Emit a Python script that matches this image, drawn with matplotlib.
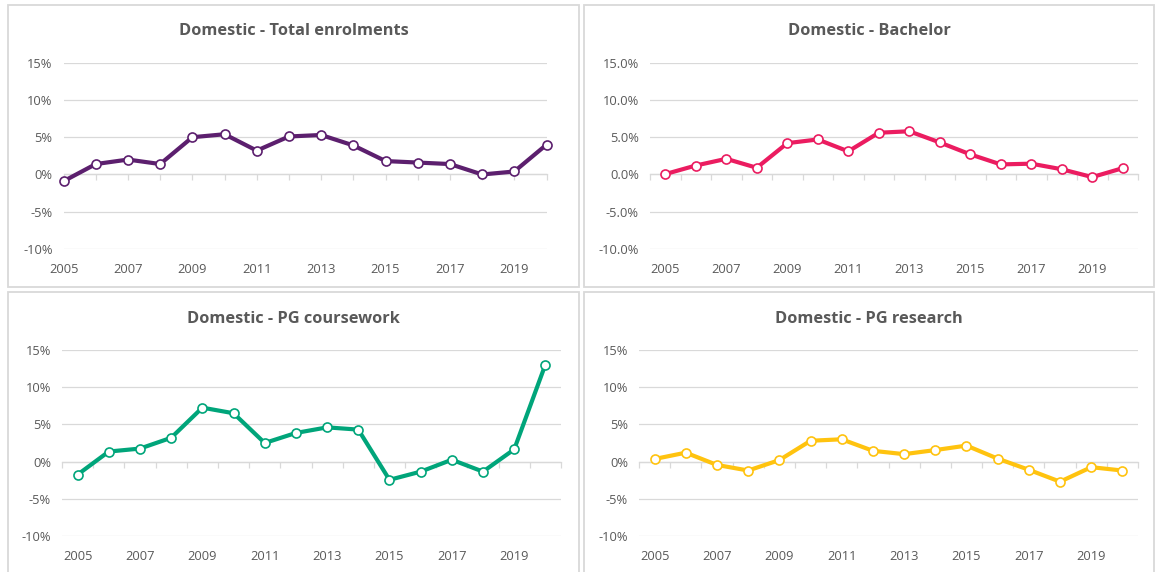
import matplotlib.pyplot as plt
from matplotlib.patches import Rectangle
from matplotlib.ticker import FuncFormatter

plt.rcParams['font.family'] = ['Open Sans', 'DejaVu Sans']

years = list(range(2005, 2021))
label_years = list(range(2005, 2021, 2))

total = [-0.9, 1.4, 2.0, 1.4, 5.0, 5.4, 3.2, 5.1, 5.3, 3.9, 1.8, 1.6, 1.4, 0.0, 0.4, 4.0]
bachelor = [0.05, 1.2, 2.1, 0.9, 4.2, 4.7, 3.1, 5.6, 5.8, 4.3, 2.7, 1.35, 1.45, 0.7, -0.35, 0.85]
pg_course = [-1.75, 1.35, 1.75, 3.2, 7.25, 6.5, 2.5, 3.85, 4.6, 4.3, -2.45, -1.35, 0.25, -1.35, 1.65, 13.05]
pg_research = [0.35, 1.2, -0.45, -1.2, 0.2, 2.8, 3.0, 1.45, 1.0, 1.55, 2.15, 0.4, -1.1, -2.7, -0.75, -1.2]

titles = ['Domestic - Total enrolments', 'Domestic - Bachelor',
          'Domestic - PG coursework', 'Domestic - PG research']
series = [total, bachelor, pg_course, pg_research]
colors = ['#5C1F6E', '#EB1C60', '#00A57A', '#FFC30F']

W, H = 1156, 572
fig = plt.figure(figsize=(W / 100, H / 100), dpi=100)

# pixel boxes: (left, right, top, bottom) for plot area and chart border
plot_px = [(63.6, 546.5, 62.7, 249), (650, 1138, 62.7, 249),
           (62, 561, 350, 536), (639, 1138, 350, 536)]
box_px = [(8, 579, 5, 286.5), (584, 1154, 5, 286.5),
          (8, 579, 292, 610), (584, 1154, 292, 610)]
title_y = [31, 31, 319, 319]
on_ticks = [True, False, False, False]
decimals = [0, 1, 0, 0]

grey = '#595959'
grid = '#D9D9D9'

for i in range(4):
    bl, br, bt, bb = box_px[i]
    fig.patches.append(Rectangle((bl / W, 1 - bb / H), (br - bl) / W, (bb - bt) / H,
                                 transform=fig.transFigure, fill=False,
                                 edgecolor=grid, linewidth=1.3))
    fig.text((bl + br) / 2 / W, 1 - title_y[i] / H, titles[i], ha='center', va='center',
             fontsize=11.8, fontweight='bold', color=grey)

    l, r, t, b = plot_px[i]
    ax = fig.add_axes([l / W, 1 - b / H, (r - l) / W, (b - t) / H])
    ax.set_ylim(-10, 15)
    ax.set_yticks([-10, -5, 0, 5, 10, 15])
    d = decimals[i]
    ax.yaxis.set_major_formatter(FuncFormatter(lambda v, p, d=d: f'{v:.{d}f}%'))
    ax.grid(axis='y', color=grid, linewidth=0.9)
    ax.set_axisbelow(True)
    for s in ['top', 'right', 'left']:
        ax.spines[s].set_visible(False)
    ax.spines['bottom'].set_position(('data', 0))
    ax.spines['bottom'].set_color(grid)
    ax.spines['bottom'].set_linewidth(0.9)
    ax.tick_params(axis='y', length=0, pad=8, labelsize=9.3, labelcolor=grey)

    if on_ticks[i]:
        ax.set_xlim(years[0], years[-1])
        ax.set_xticks(years)
    else:
        ax.set_xlim(years[0] - 0.5, years[-1] + 0.5)
        ax.set_xticks([y - 0.5 for y in years] + [years[-1] + 0.5])
    ax.tick_params(axis='x', direction='out', length=4, color=grid, width=0.9,
                   labelbottom=False)

    sec = ax.secondary_xaxis('bottom')
    sec.set_xticks(label_years)
    sec.set_xticklabels([str(y) for y in label_years])
    sec.spines['bottom'].set_visible(False)
    sec.tick_params(length=0, pad=10, labelsize=9.3, labelcolor=grey)

    ax.plot(years, series[i], color=colors[i], linewidth=3, marker='o',
            markersize=6.5, markerfacecolor='white', markeredgecolor=colors[i],
            markeredgewidth=1.2, solid_joinstyle='round', zorder=3, clip_on=False)

fig.savefig('out.png', dpi=100, facecolor='white')
